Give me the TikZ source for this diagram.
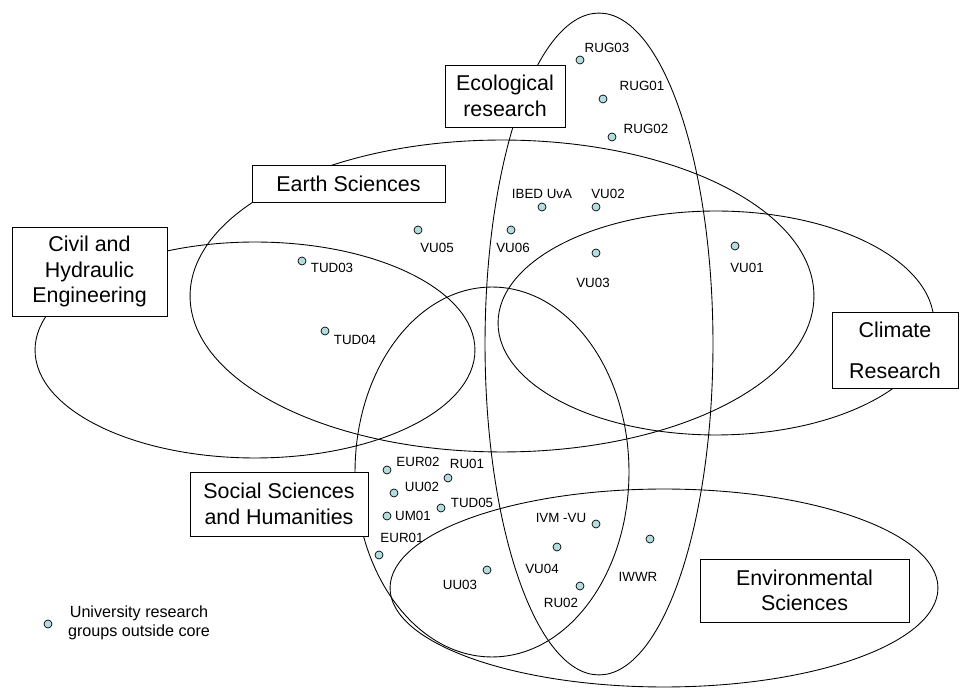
\documentclass[tikz,border=0pt]{standalone}
\usepackage{fontspec}
\setmainfont{Liberation Sans}
\usepackage{tikz}

\definecolor{dotfill}{RGB}{180,221,223}

\begin{document}
\begin{tikzpicture}[
    x=0.02cm, y=-0.02cm,
    line width=0.5pt,
    area/.style={draw, fill=white, align=center, inner sep=0pt, font=\fontsize{12.2}{14.5}\selectfont},
    dot/.style={circle, draw, fill=dotfill, inner sep=0pt, minimum size=0.16cm, line width=0.4pt},
    lbl/.style={inner sep=0pt, font=\fontsize{7.6}{9}\selectfont}
]
    \useasboundingbox (0,0) rectangle (960,688);

    % Research fields
    \draw (255,350) ellipse [x radius=4.4cm, y radius=2.16cm];
    \draw (502,296) ellipse [x radius=6.24cm, y radius=3.12cm];
    \draw (716,323) ellipse [x radius=4.36cm, y radius=2.24cm];
    \draw (599,344) ellipse [x radius=2.28cm, y radius=6.62cm];
    \draw (492,472) ellipse [x radius=2.74cm, y radius=3.7cm];
    \draw (664,588) ellipse [x radius=5.48cm, y radius=1.98cm];

    % Field labels
    \node[area, minimum width=2.4cm, minimum height=1.24cm] (ecol) at (505,96) {Ecological\\research};
    \node[area, minimum width=3.86cm, minimum height=0.74cm] (earth) at (348.5,183.5) {Earth Sciences};
    \node[area, minimum width=3.1cm, minimum height=1.78cm] (civil) at (89.5,271.5) {Civil and\\Hydraulic\\Engineering};
    \node[area, minimum width=2.52cm, minimum height=1.52cm, font=\fontsize{12.2}{23.2}\selectfont] (climate) at (895,350) {Climate\\Research};
    \node[area, minimum width=3.56cm, minimum height=1.28cm] (social) at (279,504) {Social Sciences\\and Humanities};
    \node[area, minimum width=4.18cm, minimum height=1.26cm] (envir) at (804.5,590.5) {Environmental\\Sciences};

    % Research groups
    \node[dot] (rug03) at (580,60) {};   \node[lbl] (rug03-l) at (607,48) {RUG03};
    \node[dot] (rug01) at (603,99) {};   \node[lbl] (rug01-l) at (642,86) {RUG01};
    \node[dot] (rug02) at (612,137) {};  \node[lbl] (rug02-l) at (646,129) {RUG02};
    \node[dot] (ibed) at (542,207) {};   \node[lbl] (ibed-l) at (542,194) {IBED UvA};
    \node[dot] (vu02) at (596,207) {};   \node[lbl] (vu02-l) at (608,194) {VU02};
    \node[dot] (vu06) at (511,230) {};   \node[lbl] (vu06-l) at (513,248) {VU06};
    \node[dot] (vu03) at (596,253) {};   \node[lbl] (vu03-l) at (593,283) {VU03};
    \node[dot] (vu01) at (735,246) {};   \node[lbl] (vu01-l) at (747,268) {VU01};
    \node[dot] (vu05) at (418,230) {};   \node[lbl] (vu05-l) at (437,248) {VU05};
    \node[dot] (tud03) at (302,261) {};  \node[lbl] (tud03-l) at (332,268) {TUD03};
    \node[dot] (tud04) at (325,331) {};  \node[lbl] (tud04-l) at (355,340) {TUD04};
    \node[dot] (eur02) at (387,470) {};  \node[lbl] (eur02-l) at (418,462) {EUR02};
    \node[dot] (ru01) at (448,478) {};   \node[lbl] (ru01-l) at (467,464) {RU01};
    \node[dot] (uu02) at (394,493) {};   \node[lbl] (uu02-l) at (422,487) {UU02};
    \node[dot] (tud05) at (441,508) {};  \node[lbl] (tud05-l) at (472,503) {TUD05};
    \node[dot] (um01) at (387,516) {};   \node[lbl] (um01-l) at (413,516) {UM01};
    \node[dot] (eur01) at (379,555) {};  \node[lbl] (eur01-l) at (402,538) {EUR01};
    \node[dot] (ivm) at (596,524) {};    \node[lbl] (ivm-l) at (561,518) {IVM -VU};
    \node[dot] (vu04) at (557,547) {};   \node[lbl] (vu04-l) at (542,569) {VU04};
    \node[dot] (uu03) at (487,570) {};   \node[lbl] (uu03-l) at (460,585) {UU03};
    \node[dot] (ru02) at (580,586) {};   \node[lbl] (ru02-l) at (561,603) {RU02};
    \node[dot] (iwwr) at (650,539) {};   \node[lbl] (iwwr-l) at (638,577) {IWWR};

    % Legend
    \node[dot] (key) at (48,624) {};
    \node[lbl, align=center, font=\fontsize{9.2}{10.8}\selectfont] (key-l) at (139,622.5) {University research\\groups outside core};
\end{tikzpicture}
\end{document}
